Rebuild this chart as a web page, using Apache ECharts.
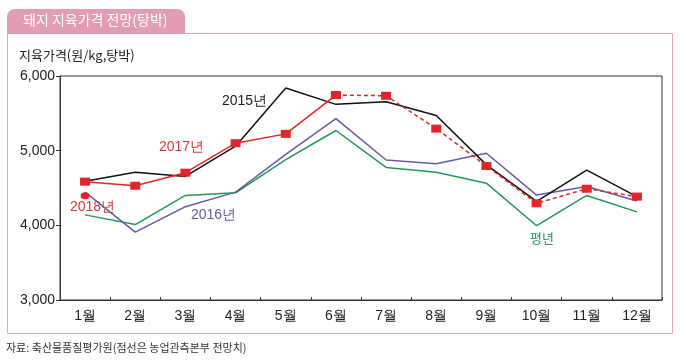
<!DOCTYPE html>
<html><head><meta charset="utf-8">
<script src="https://cdn.jsdelivr.net/npm/echarts@6/dist/echarts.min.js"></script>
<style>html,body{margin:0;padding:0;background:#fff}#c{width:680px;height:361px}</style>
</head><body><div id="c"></div>
<script>
const months = ['1월','2월','3월','4월','5월','6월','7월','8월','9월','10월','11월','12월'];
const yTicks = [3000, 4000, 5000, 6000];
const y2015 = [4590, 4710, 4655, 5060, 5840, 5620, 5655, 5470, 4810, 4320, 4740, 4385];
const y2016 = [4445, 3910, 4250, 4445, 4950, 5430, 4875, 4825, 4965, 4405, 4520, 4325];
const y2017 = [4585, 4530, 4705, 5100, 5225, 5745, null, null, null, null, null, null];
const yForecast = [null, null, null, null, null, 5745, 5735, 5295, 4795, 4295, 4490, 4385];
const y2018 = [4395, null, null, null, null, null, null, null, null, null, null, null];
const yNormal = [4140, 4010, 4400, 4435, 4880, 5270, 4775, 4710, 4565, 3995, 4400, 4180];

const chart = echarts.init(document.getElementById('c'));
const kr = '"Noto Sans CJK KR", sans-serif';
const narrow = '"Liberation Sans Narrow", "Liberation Sans", sans-serif';
chart.setOption({
  animation: false,
  graphic: [
    {type:'rect', shape:{x:7.5, y:33.5, width:665, height:300}, style:{fill:'none', stroke:'#e3a9bb', lineWidth:1}},
    {type:'rect', shape:{x:7, y:9, width:178, height:25, r:[8,8,0,0]}, style:{fill:'#e39db3'}},
    {type:'text', left:23, top:13, style:{text:'돼지 지육가격 전망(탕박)', fill:'#fff', font:'14px '+kr}},
    {type:'text', left:19, top:49, style:{text:'지육가격(원/kg,탕박)', fill:'#222', font:'13px '+kr}},
    {type:'text', left:6, top:342, style:{text:'자료: 축산물품질평가원(점선은 농업관측본부 전망치)', fill:'#333', font:'11px '+kr}},
    {type:'text', left:222, top:94, style:{text:'2015년', fill:'#222', font:'14px '+narrow}},
    {type:'text', left:159, top:140, style:{text:'2017년', fill:'#d6383c', font:'14px '+narrow}},
    {type:'text', left:70, top:200, style:{text:'2018년', fill:'#d6383c', font:'14px '+narrow}},
    {type:'text', left:191, top:208, style:{text:'2016년', fill:'#6a5a9e', font:'14px '+narrow}},
    {type:'text', left:530, top:232, style:{text:'평년', fill:'#1f9a5c', font:'13px '+kr}}
  ],
  grid: {left:60, right:18, top:76, bottom:61, show:true, borderColor:'#333', borderWidth:1},
  xAxis: {
    type:'category', data: months, boundaryGap:true,
    axisLine:{lineStyle:{color:'#333'}},
    axisTick:{show:true, inside:true, length:3, lineStyle:{color:'#333'}},
    axisLabel:{color:'#222', fontFamily:narrow, fontSize:14, margin:9}
  },
  yAxis: {
    type:'value', min:yTicks[0], max:yTicks[yTicks.length-1], interval:1000,
    axisLine:{show:true, lineStyle:{color:'#333'}},
    axisTick:{show:true, length:4, lineStyle:{color:'#333'}},
    splitLine:{show:false},
    axisLabel:{color:'#222', fontFamily:narrow, fontSize:14, margin:5,
      formatter: v => v.toLocaleString('en-US')}
  },
  series: [
    {name:'평년', type:'line', data:yNormal, symbol:'none', lineStyle:{color:'#1f9a5c', width:1.5}},
    {name:'2016년', type:'line', data:y2016, symbol:'none', lineStyle:{color:'#6a5a9e', width:1.5}},
    {name:'2015년', type:'line', data:y2015, symbol:'none', lineStyle:{color:'#111', width:1.5}},
    {name:'2017년', type:'line', data:y2017, symbol:'rect', symbolSize:[10,8], itemStyle:{color:'#e0262b'}, lineStyle:{color:'#e0262b', width:1.5}},
    {name:'전망', type:'line', data:yForecast, symbol:'rect', symbolSize:[10,8], itemStyle:{color:'#e0262b'}, lineStyle:{color:'#e0262b', width:1.5, type:[4,3]}},
    {name:'2018년', type:'line', data:y2018, symbol:'circle', symbolSize:[9,7], itemStyle:{color:'#e0262b'}}
  ]
});
</script></body></html>
